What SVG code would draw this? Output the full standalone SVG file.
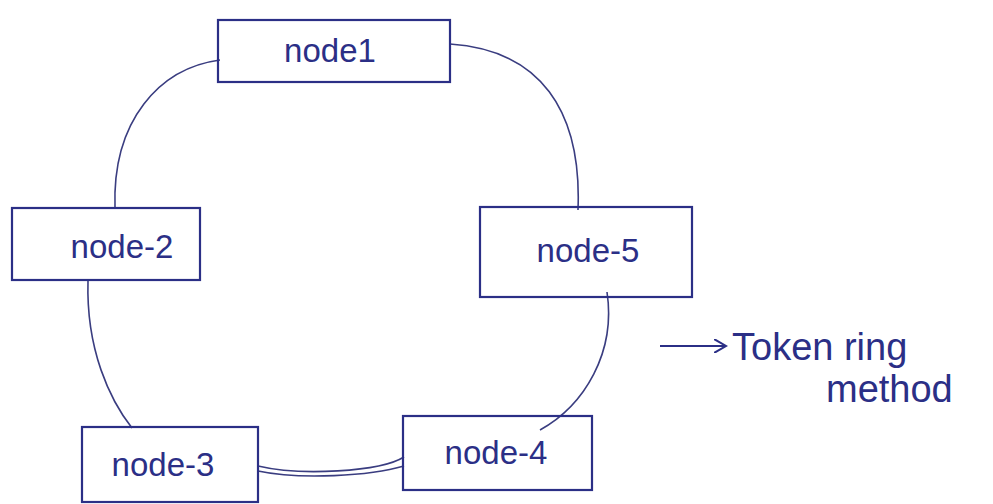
<svg xmlns="http://www.w3.org/2000/svg" width="993" height="504" viewBox="0 0 993 504">
<style>
.box{fill:none;stroke:#2b2f86;stroke-width:2.2}
.lbl{font-family:"Liberation Sans",Arial,sans-serif;font-size:33px;fill:#2b2f86}
.big{font-size:38px}
.con{fill:none;stroke:#3a3d80;stroke-width:1.6}
</style>
<defs>
<marker id="ah" markerWidth="14" markerHeight="14" refX="12" refY="7" orient="auto" markerUnits="userSpaceOnUse">
<path d="M0,0 L12,7 L0,14" fill="none" stroke="#2b2f86" stroke-width="2"/>
</marker>
</defs>
<rect width="993" height="504" fill="#ffffff"/>
<g id="connectors">
<path class="con" d="M220,60 C160,68 112,120 115,208"/>
<path class="con" d="M450,44 C540,50 582,110 578,210"/>
<path class="con" d="M88,281 C86,350 110,400 132,428"/>
<path class="con" d="M258,466 C300,476 380,472 404,457"/>
<path class="con" d="M258,471 C300,480 370,476 404,466"/>
<path class="con" d="M607,292 C616,352 585,405 540,430"/>
</g>
<g id="node1">
<rect class="box" x="218" y="20" width="232" height="62"/>
<text class="lbl" x="330" y="62" text-anchor="middle">node1</text>
</g>
<g id="node-2">
<rect class="box" x="12" y="208" width="188" height="72"/>
<text class="lbl" x="122" y="258" text-anchor="middle">node-2</text>
</g>
<g id="node-5">
<rect class="box" x="480" y="207" width="212" height="90"/>
<text class="lbl" x="588" y="262" text-anchor="middle">node-5</text>
</g>
<g id="node-3">
<rect class="box" x="82" y="427" width="176" height="75"/>
<text class="lbl" x="163" y="476" text-anchor="middle">node-3</text>
</g>
<g id="node-4">
<rect class="box" x="403" y="416" width="189" height="74"/>
<text class="lbl" x="496" y="464" text-anchor="middle">node-4</text>
</g>
<g id="label">
<line x1="660" y1="346" x2="726" y2="346" stroke="#2b2f86" stroke-width="2" marker-end="url(#ah)"/>
<text class="lbl big" x="732" y="360">Token ring</text>
<text class="lbl big" x="826" y="402">method</text>
</g>
</svg>
